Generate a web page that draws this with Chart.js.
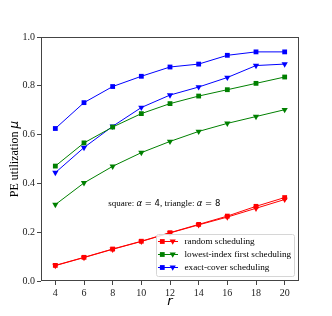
<!DOCTYPE html>
<html>
<head>
<meta charset="utf-8">
<script src="https://cdn.jsdelivr.net/npm/chart.js@4/dist/chart.umd.min.js"></script>
<style>
  html, body { margin: 0; padding: 0; background: #fff; }
  #wrap { width: 332px; height: 316px; }
</style>
</head>
<body>
<div id="wrap"><canvas id="peChart" width="332" height="316"></canvas></div>
<script>
// r values on the x axis
const rValues = [4, 6, 8, 10, 12, 14, 16, 18, 20];

// square = alpha 4, triangle = alpha 8
const randomSq   = [0.064, 0.097, 0.131, 0.163, 0.198, 0.232, 0.266, 0.306, 0.342];
const randomTri  = [0.063, 0.096, 0.130, 0.162, 0.197, 0.230, 0.262, 0.298, 0.334];
const lowestSq   = [0.471, 0.566, 0.631, 0.686, 0.727, 0.758, 0.784, 0.810, 0.836];
const lowestTri  = [0.313, 0.402, 0.470, 0.526, 0.572, 0.613, 0.646, 0.674, 0.702];
const exactSq    = [0.625, 0.731, 0.797, 0.839, 0.877, 0.889, 0.925, 0.939, 0.939];
const exactTri   = [0.444, 0.547, 0.634, 0.711, 0.762, 0.795, 0.834, 0.883, 0.889];

const legendLabels = ["random scheduling", "lowest-index first scheduling", "exact-cover scheduling"];
const legendColors = ["#ff0000", "#008000", "#0000ff"];

const xTicks = [4, 6, 8, 10, 12, 14, 16, 18, 20];
const yTicks = [0.0, 0.2, 0.4, 0.6, 0.8, 1.0];

const notePos = { x: 11.6, y: 0.316 };

const serif = '"Liberation Serif", "DejaVu Serif", serif';

function pts(ys) {
  return rValues.map((r, i) => ({ x: r, y: ys[i] }));
}

function series(ys, color, shape) {
  return {
    data: pts(ys),
    borderColor: color,
    backgroundColor: color,
    borderWidth: 1,
    pointStyle: shape === "sq" ? "rect" : "triangle",
    pointRotation: shape === "sq" ? 0 : 180,
    pointRadius: shape === "sq" ? 3.4 : 3.6,
    pointBorderWidth: 0,
    tension: 0,
    fill: false
  };
}

// 外枠・注釈・凡例・軸タイトル
const decor = {
  id: "decor",
  afterDraw(chart) {
    const ctx = chart.ctx;
    const a = chart.chartArea;
    const xs = chart.scales.x, ys = chart.scales.y;
    ctx.save();

    // frame
    ctx.strokeStyle = "#444";
    ctx.lineWidth = 1;
    ctx.strokeRect(Math.round(a.left) + 0.5, Math.round(a.top) + 0.5,
      Math.round(a.right - a.left) - 1, Math.round(a.bottom - a.top) - 1);

    // annotation with mixed fonts
    const parts = [
      ["square: ", "9px " + serif],
      ["α", "italic 8.5px 'DejaVu Sans'"],
      [" = 4", "8.5px 'DejaVu Sans'"],
      [", triangle: ", "9px " + serif],
      ["α", "italic 8.5px 'DejaVu Sans'"],
      [" = 8", "8.5px 'DejaVu Sans'"]
    ];
    let total = 0;
    parts.forEach(p => { ctx.font = p[1]; total += ctx.measureText(p[0]).width; });
    let tx = xs.getPixelForValue(notePos.x) - total / 2;
    const ty = ys.getPixelForValue(notePos.y);
    ctx.fillStyle = "#000";
    ctx.textBaseline = "middle";
    parts.forEach(p => {
      ctx.font = p[1];
      ctx.fillText(p[0], tx, ty);
      tx += ctx.measureText(p[0]).width;
    });

    // legend box
    const lx = 156, ly = 234, lw = 138, lh = 42;
    ctx.fillStyle = "rgba(255,255,255,0.85)";
    ctx.strokeStyle = "#d6d6d6";
    ctx.beginPath();
    ctx.roundRect(lx + 0.5, ly + 0.5, lw, lh, 2);
    ctx.fill();
    ctx.stroke();
    legendLabels.forEach((label, i) => {
      const cy = ly + 7.5 + i * 13;
      const c = legendColors[i];
      ctx.strokeStyle = c;
      ctx.fillStyle = c;
      ctx.lineWidth = 1;
      ctx.beginPath();
      ctx.moveTo(158, cy);
      ctx.lineTo(178, cy);
      ctx.stroke();
      ctx.fillRect(162.3 - 2.4, cy - 2.4, 4.8, 4.8);
      ctx.beginPath();
      ctx.moveTo(172.7 - 3.1, cy - 2);
      ctx.lineTo(172.7 + 3.1, cy - 2);
      ctx.lineTo(172.7, cy + 3.2);
      ctx.closePath();
      ctx.fill();
      ctx.fillStyle = "#000";
      ctx.font = "9.2px " + serif;
      ctx.textBaseline = "middle";
      ctx.fillText(label, 184.5, cy + 0.5);
    });

    // x title
    ctx.font = "italic 13px 'DejaVu Sans'";
    ctx.textAlign = "center";
    ctx.textBaseline = "middle";
    ctx.fillText("r", (a.left + a.right) / 2, 302);

    // y title
    ctx.translate(15, (a.top + a.bottom) / 2);
    ctx.rotate(-Math.PI / 2);
    ctx.font = "12px " + serif;
    const t1 = "PE utilization ";
    const w1 = ctx.measureText(t1).width;
    ctx.font = "italic 12px 'DejaVu Sans'";
    const w2 = ctx.measureText("μ").width;
    let sx = -(w1 + w2) / 2;
    ctx.font = "12px " + serif;
    ctx.textAlign = "left";
    ctx.fillText(t1, sx, 0);
    ctx.font = "italic 12px 'DejaVu Sans'";
    ctx.fillText("μ", sx + w1, 0);

    ctx.restore();
  }
};

new Chart(document.getElementById("peChart").getContext("2d"), {
  type: "line",
  data: {
    datasets: [
      series(randomSq, "#ff0000", "sq"),
      series(randomTri, "#ff0000", "tri"),
      series(lowestSq, "#008000", "sq"),
      series(lowestTri, "#008000", "tri"),
      series(exactSq, "#0000ff", "sq"),
      series(exactTri, "#0000ff", "tri")
    ]
  },
  options: {
    responsive: false,
    animation: false,
    layout: { padding: { left: 0, right: 33, top: 37, bottom: 0 } },
    plugins: {
      legend: { display: false },
      tooltip: { enabled: false }
    },
    scales: {
      x: {
        type: "linear",
        min: 3,
        max: 21,
        afterFit(s) { s.height = 35; },
        afterBuildTicks(s) { s.ticks = xTicks.map(v => ({ value: v })); },
        grid: { drawOnChartArea: false, tickLength: 4, color: "#444" },
        border: { display: false },
        ticks: {
          color: "#222",
          font: { family: serif, size: 10 },
          padding: 2,
          maxRotation: 0,
          callback: v => String(v)
        }
      },
      y: {
        min: 0,
        max: 1,
        afterFit(s) { s.width = 41; },
        afterBuildTicks(s) { s.ticks = yTicks.map(v => ({ value: v })); },
        grid: { drawOnChartArea: false, tickLength: 4, color: "#444" },
        border: { display: false },
        ticks: {
          color: "#222",
          font: { family: serif, size: 10 },
          padding: 2,
          callback: v => v.toFixed(1)
        }
      }
    }
  },
  plugins: [decor]
});
</script>
</body>
</html>
